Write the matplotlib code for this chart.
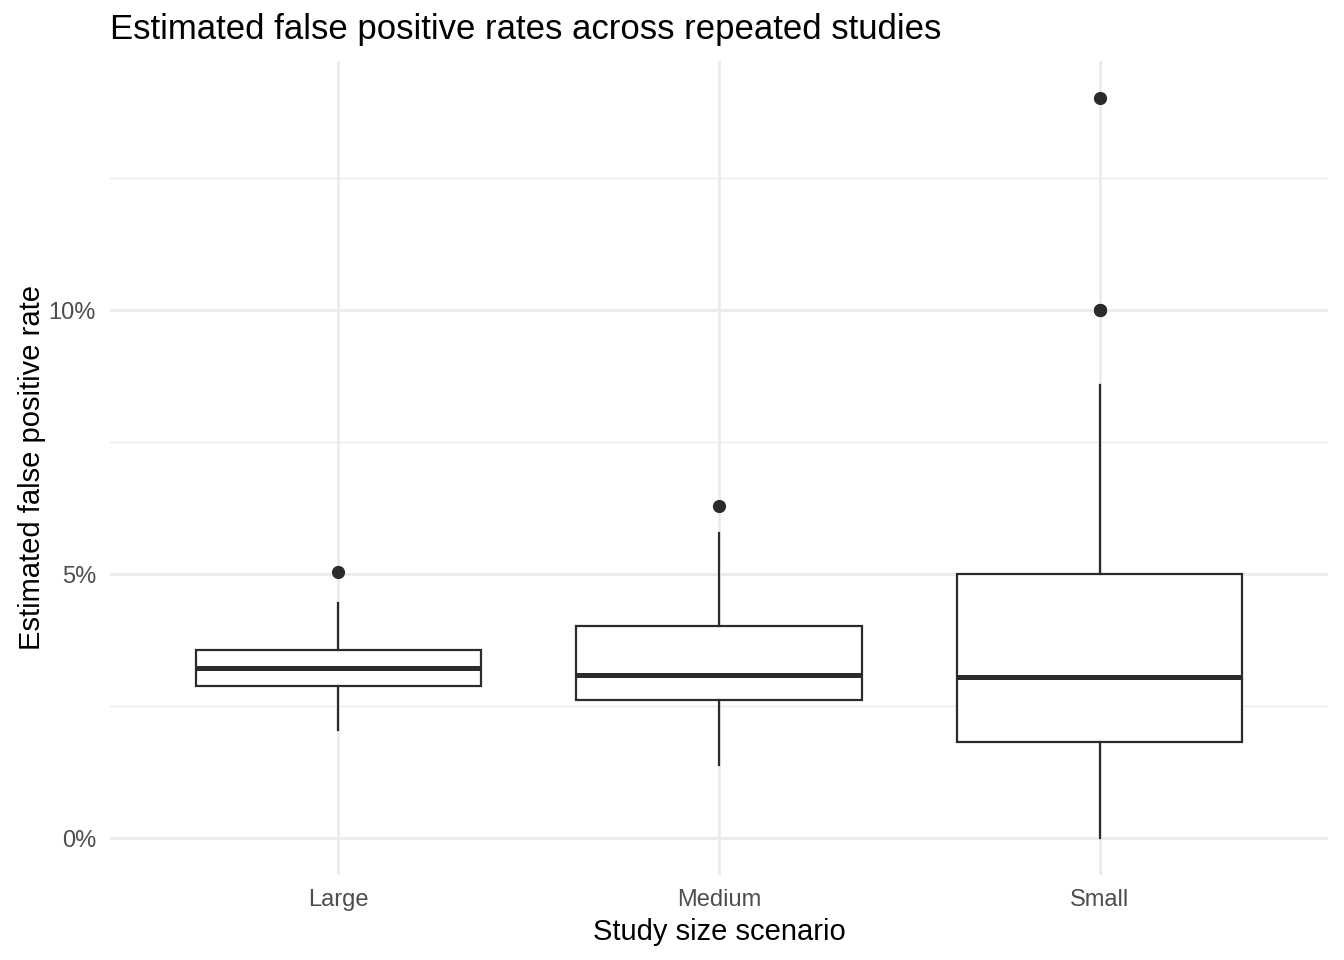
import matplotlib.pyplot as plt
from matplotlib.ticker import FixedLocator, FuncFormatter

# boxplot summary stats (percent)
scenarios = ["Large", "Medium", "Small"]
whislo = [2.05, 1.38, 0.0]
q1 = [2.88, 2.61, 1.82]
median = [3.22, 3.09, 3.05]
q3 = [3.56, 4.02, 5.00]
whishi = [4.45, 5.78, 8.58]
outliers = [[5.04], [6.29], [10.0, 10.0, 14.02]]

stats = []
for i, name in enumerate(scenarios):
    stats.append(dict(label=name, whislo=whislo[i], q1=q1[i], med=median[i],
                      q3=q3[i], whishi=whishi[i], fliers=outliers[i]))

plt.rcParams["font.family"] = ["Liberation Sans", "DejaVu Sans"]

fig = plt.figure(figsize=(13.44, 9.6), dpi=100)
ax = fig.add_axes([110 / 1344, 1 - 875 / 960, 1218 / 1344, 814 / 960])

line_col = "#2b2b2b"
ax.bxp(stats, positions=[1, 2, 3], widths=0.75, showcaps=False, patch_artist=True,
       boxprops=dict(facecolor="white", edgecolor=line_col, linewidth=1.6),
       whiskerprops=dict(color=line_col, linewidth=1.6),
       medianprops=dict(color=line_col, linewidth=3.6, solid_capstyle="butt"),
       flierprops=dict(marker="o", markerfacecolor=line_col, markeredgecolor=line_col,
                       markersize=8.5, linestyle="none"),
       zorder=3)

ax.set_xlim(0.4, 3.6)
ax.set_ylim(-0.70, 14.72)

ax.yaxis.set_major_locator(FixedLocator([0, 5, 10]))
ax.yaxis.set_minor_locator(FixedLocator([2.5, 7.5, 12.5]))
ax.yaxis.set_major_formatter(FuncFormatter(lambda v, p: f"{v:.0f}%"))
ax.set_xticks([1, 2, 3])
ax.set_xticklabels(scenarios)

ax.grid(True, which="major", color="#EBEBEB", linewidth=2.0, zorder=0)
ax.grid(True, which="minor", axis="y", color="#EBEBEB", linewidth=1.0, zorder=0)
ax.set_axisbelow(True)
for s in ax.spines.values():
    s.set_visible(False)
ax.tick_params(which="both", length=0)
ax.tick_params(axis="y", labelsize=17, labelcolor="#4D4D4D", pad=10)
ax.tick_params(axis="x", labelsize=17, labelcolor="#4D4D4D", pad=10)

ax.set_xlabel("Study size scenario", fontsize=21, labelpad=5)
ax.set_ylabel("Estimated false positive rate", fontsize=21, labelpad=2)

fig.text(110 / 1344, 1 - 30 / 960, "Estimated false positive rates across repeated studies",
         fontsize=25, va="center", ha="left")

fig.savefig("out.png", dpi=100)
